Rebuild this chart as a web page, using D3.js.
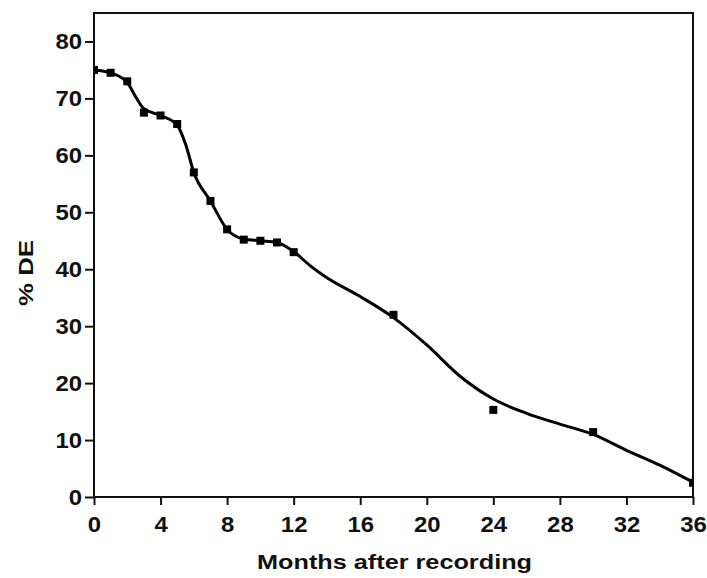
<!DOCTYPE html>
<html>
<head>
<meta charset="utf-8">
<script src="https://cdn.jsdelivr.net/npm/d3@7"></script>
<style>
  body { margin: 0; background: #fff; }
  text { font-family: "Liberation Sans", Arial, sans-serif; font-weight: bold; fill: #111; }
</style>
</head>
<body>
<svg width="707" height="578"></svg>
<script>
// measured points
const months = [0, 1, 2, 3, 4, 5, 6, 7, 8, 9, 10, 11, 12, 18, 24, 30, 36];
const deValues = [75, 74.5, 73, 67.5, 67, 65.5, 57, 52, 47, 45.2, 45, 44.7, 43, 32, 15.3, 11.4, 2.5];

// smoothed fit curve
const fitMonths = [0, 1, 2, 2.5, 3, 4, 5, 5.5, 6, 7, 8, 9, 10, 11, 12, 13, 14, 16, 18, 20, 22, 24, 26, 28, 30, 32, 34, 36];
const fitValues = [75, 74.5, 72.8, 70.3, 68.2, 67, 65.3, 62, 57, 52, 47, 45.3, 45, 44.7, 43.1, 40.6, 38.5, 35.2, 31.5, 26.7, 21.2, 17.2, 14.7, 12.8, 11, 8.2, 5.6, 2.6];

const xTicks = [0, 4, 8, 12, 16, 20, 24, 28, 32, 36];
const yTicks = [0, 10, 20, 30, 40, 50, 60, 70, 80];

const svg = d3.select("svg");
const margin = { top: 13, left: 94, right: 14, bottom: 81 };
const width = +svg.attr("width");
const height = +svg.attr("height");
const innerWidth = width - margin.left - margin.right;
const innerHeight = height - margin.top - margin.bottom;

const xScale = d3.scaleLinear().domain([0, 36]).range([0, innerWidth]);
const yScale = d3.scaleLinear().domain([0, 85]).range([innerHeight, 0]);

const g = svg.append("g").attr("transform", `translate(${margin.left},${margin.top})`);

g.append("clipPath").attr("id", "plot-clip")
  .append("rect").attr("width", innerWidth).attr("height", innerHeight);

// axes
const xAxis = d3.axisBottom(xScale).tickValues(xTicks).tickSize(8).tickPadding(11).tickSizeOuter(0);
const yAxis = d3.axisLeft(yScale).tickValues(yTicks).tickSize(9).tickPadding(3).tickSizeOuter(0);

const xg = g.append("g").attr("transform", `translate(0,${innerHeight})`).call(xAxis);
const yg = g.append("g").call(yAxis);

[xg, yg].forEach(ax => {
  ax.select(".domain").remove();
  ax.selectAll(".tick line").attr("stroke", "#111").attr("stroke-width", 2);
  ax.selectAll(".tick text")
    .attr("font-size", 22)
    .attr("textLength", function () { return this.textContent.length * 13.3; })
    .attr("lengthAdjust", "spacingAndGlyphs");
});

// frame
g.append("rect")
  .attr("width", innerWidth)
  .attr("height", innerHeight)
  .attr("fill", "none")
  .attr("stroke", "#111")
  .attr("stroke-width", 2);

// fit line
const line = d3.line()
  .x((d, i) => xScale(fitMonths[i]))
  .y(d => yScale(d))
  .curve(d3.curveMonotoneX);

g.append("path")
  .datum(fitValues)
  .attr("fill", "none")
  .attr("stroke", "#000")
  .attr("stroke-width", 3)
  .attr("clip-path", "url(#plot-clip)")
  .attr("d", line);

// squares
const s = 8;
g.append("g").attr("clip-path", "url(#plot-clip)")
  .selectAll("rect")
  .data(deValues)
  .enter()
  .append("rect")
  .attr("x", (d, i) => xScale(months[i]) - s / 2)
  .attr("y", d => yScale(d) - s / 2)
  .attr("width", s)
  .attr("height", s)
  .attr("fill", "#000");

// axis titles
svg.append("text")
  .attr("x", 394.5)
  .attr("y", 569)
  .attr("text-anchor", "middle")
  .attr("font-size", 21)
  .attr("textLength", 275)
  .attr("lengthAdjust", "spacingAndGlyphs")
  .text("Months after recording");

svg.append("text")
  .attr("transform", "translate(33,273) rotate(-90)")
  .attr("text-anchor", "middle")
  .attr("font-size", 21)
  .attr("textLength", 66)
  .attr("lengthAdjust", "spacingAndGlyphs")
  .text("% DE");
</script>
</body>
</html>
